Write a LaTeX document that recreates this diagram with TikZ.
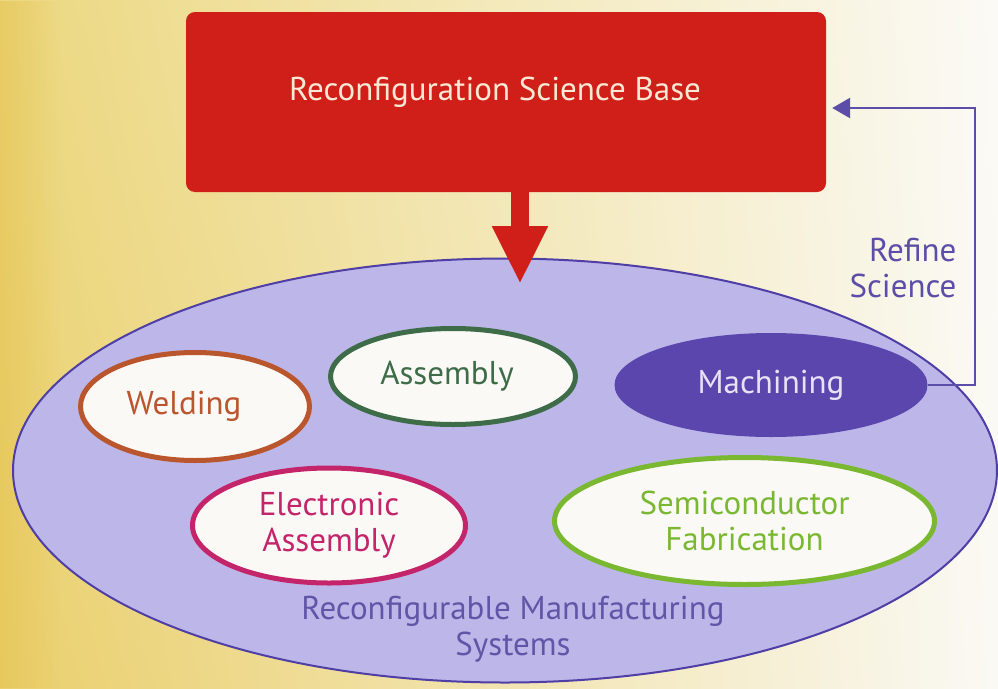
\documentclass[tikz,border=0pt]{standalone}
\usepackage{fontspec}
\setmainfont{PT Sans}
\usetikzlibrary{shapes.geometric,arrows.meta,fadings,shadings}
\definecolor{bgUL}{RGB}{236,216,128}
\definecolor{bgLL}{RGB}{234,207,108}
\definecolor{bgUR}{RGB}{251,250,246}
\definecolor{bgLR}{RGB}{250,249,244}
\definecolor{bgY}{RGB}{230,198,88}
\definecolor{redB}{RGB}{208,30,24}
\definecolor{creamT}{RGB}{248,232,212}
\definecolor{bigF}{RGB}{188,183,232}
\definecolor{bigB}{RGB}{78,62,165}
\definecolor{fbC}{RGB}{92,78,168}
\definecolor{machF}{RGB}{90,70,172}
\definecolor{machT}{RGB}{232,226,246}
\definecolor{inF}{RGB}{251,249,246}
\definecolor{weldC}{RGB}{186,86,46}
\definecolor{assC}{RGB}{62,108,72}
\definecolor{elecC}{RGB}{196,36,106}
\definecolor{semiC}{RGB}{122,184,50}
\definecolor{rmsT}{RGB}{96,86,168}
\tikzset{
  every node/.style={font=\fontsize{33}{36}\selectfont},
  proc/.style={ellipse, draw=#1, line width=5pt, fill=inF, inner sep=0pt, text=#1, align=center},
  fbline/.style={draw=fbC, line width=2.8pt, -{Triangle[length=18pt,width=20pt]}},
}
\begin{document}
\begin{tikzpicture}[x=1pt,y=-1pt]
\useasboundingbox (0,0) rectangle (998,688);
\shade[upper left=bgUL, lower left=bgLL, upper right=bgUR, lower right=bgLR] (0,0) rectangle (998,688);
\fill[bgY, opacity=0.7, path fading=east] (0,0) rectangle (60,688);

% big ellipse
\node[ellipse, draw=bigB, line width=2pt, fill=bigF, minimum width=984pt, minimum height=424pt, inner sep=0pt] (rms) at (505,470.5) {};
\node[text=rmsT, align=center] (rmst) at (513,629) {Reconfigurable Manufacturing\\Systems};

% top box
\node[rectangle, rounded corners=9pt, fill=redB, minimum width=640pt, minimum height=180pt, inner sep=0pt] (rsb) at (506,102) {};
\node[text=creamT] (rsbt) at (495,92) {Reconfiguration Science Base};

% red arrow
\coordinate (redtip) at (520,284);
\draw[redB, line width=18pt, -{Triangle[length=58pt,width=52pt]}] (rsb.south -| redtip) -- (redtip);

% processes
\node[proc=weldC] (weld) at (195,406.5) [minimum width=229pt, minimum height=108pt] {Welding\hspace*{22pt}};
\node[proc=assC] (ass) at (453,376.5) [minimum width=245pt, minimum height=96pt] {Assembly\hspace*{12pt}};
\node[ellipse, fill=machF, inner sep=0pt, text=machT, minimum width=313pt, minimum height=104pt] (mach) at (771,385) {Machining};
\node[proc=elecC] (elec) at (329,525.5) [minimum width=273pt, minimum height=115pt] {Electronic\\Assembly};
\node[proc=semiC] (semi) at (744.5,521) [minimum width=380pt, minimum height=127pt] {Semiconductor\\Fabrication};

% feedback
\coordinate (fbtop) at (975,108);
\draw[fbline, shorten >=6pt] (mach.east) -| (fbtop) -- (fbtop -| rsb.east);
\node[text=fbC, align=right, anchor=east] (refine) at (960,268) {Refine\\Science};
\end{tikzpicture}
\end{document}
